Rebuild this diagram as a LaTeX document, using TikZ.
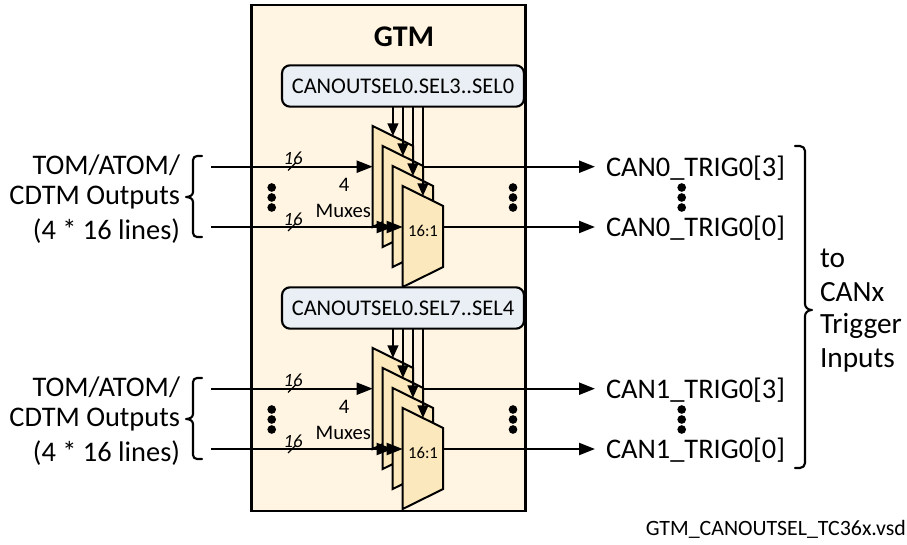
\documentclass[tikz,border=0pt]{standalone}
\usepackage{fontspec}
\setmainfont{Carlito}
\usetikzlibrary{arrows.meta}
\definecolor{gtmfill}{HTML}{FFF5E2}
\definecolor{muxfill}{HTML}{FBE8BC}
\definecolor{selfill}{HTML}{E9EFF4}
\tikzset{
  every node/.style={inner sep=0pt,outer sep=0pt,text=black},
  gtmbox/.style={draw=black,line width=1.6pt,fill=gtmfill},
  muxbody/.style={draw=black,line width=1.5pt,fill=muxfill,line join=miter},
  selbox/.style={draw=black,line width=1.6pt,fill=selfill,rounded corners=6pt,minimum width=181.5pt,minimum height=31pt,font=\fontsize{16.8}{18}\selectfont},
  sigline/.style={line width=1.6pt,-{Triangle[length=12pt,width=9pt]}},
  selline/.style={line width=1.6pt,-{Triangle[length=9.5pt,width=8pt]}},
  plainline/.style={line width=1.6pt},
  brace/.style={line width=1.6pt,line cap=round,line join=round},
  lbl/.style={font=\fontsize{21.3}{23}\selectfont},
  small/.style={font=\fontsize{15.5}{17}\selectfont},
  buslbl/.style={font=\fontsize{14}{16}\selectfont\itshape},
  dotmark/.style={circle,fill=black,minimum size=6.5pt},
}
\newcommand{\muxshape}[3]{% name, left x, top y
  \draw[muxbody] (#2,#3) coordinate (#1tl) -- ++(40.5,20) coordinate (#1tr)
     -- ++(0,61) coordinate (#1br) -- ++(-40.5,20) coordinate (#1bl) -- cycle;
  \coordinate (#1l) at (#2,#3+40.5);
  \coordinate (#1t) at (#2+20.25,#3+10);
}
\newcommand{\muxgroup}[4]{% y offset, name prefix, selector text, trig prefix
\begin{scope}[shift={(0,#1)}]
  \node[selbox] (#2sel) at (403,86) {#3};
  \foreach \i/\xx/\yy in {1/372.7/126,2/382.7/146,3/392.7/166,4/402.7/186}{
    \muxshape{#2m\i}{\xx}{\yy}
    \draw[selline] (#2sel.south -| #2m\i t) -- (#2m\i t);
  }
  \coordinate (#2in3) at (211,166.7);
  \coordinate (#2in0) at (211,227);
  \coordinate (#2o3) at (595,166.7);
  \coordinate (#2o0) at (595,227);
  \draw[sigline] (#2in3) -- (#2m1l |- #2in3);
  \draw[sigline,shorten >=7.5pt] (#2in0) -- (#2m4l |- #2in0);
  \draw[sigline] (#2in0) -- (#2m4l |- #2in0);
  \draw[sigline] (#2m2tr |- #2o3) -- (#2o3);
  \draw[sigline] (#2m4tr |- #2o0) -- (#2o0);
  \node[font=\fontsize{12.5}{14}\selectfont] (#2ratio) at (423,231) {16:1};
  \node[small] (#2four) at (344,185) {4};
  \node[small,anchor=east] (#2muxes) at (371,211) {Muxes};
  \node[buslbl] (#2n3) at (293,158) {16};
  \node[buslbl] (#2n0) at (293,219) {16};
  \coordinate (#2s3a) at (288,170.5); \coordinate (#2s3b) at (295.5,163);
  \coordinate (#2s0a) at (288,231); \coordinate (#2s0b) at (295.5,223.5);
  \draw[plainline,line width=1pt] (#2s3a) -- (#2s3b);
  \draw[plainline,line width=1pt] (#2s0a) -- (#2s0b);
  \foreach \k/\yy in {a/187.5,b/197.5,c/207.5}{
    \node[dotmark] (#2dl\k) at (271.7,\yy) {};
    \node[dotmark] (#2dm\k) at (513,\yy) {};
    \node[dotmark] (#2dr\k) at (681.7,\yy) {};
  }
  \node[lbl,anchor=west] (#2t3) at (606,168) {#4[3]};
  \node[lbl,anchor=west] (#2t0) at (606,228) {#4[0]};
  \node[lbl,anchor=east] (#2a) at (180,165) {TOM/ATOM/};
  \node[lbl,anchor=east] (#2b) at (180,198) {CDTM Outputs};
  \node[lbl,anchor=east] (#2c) at (180,231) {(4 * 16 lines)};
  \draw[brace] (202,156) -- (197,156) to[out=180,in=90] (193,160) -- (193,192)
     to[out=-90,in=0] (186,197) to[out=0,in=90] (193,202) -- (193,233)
     to[out=-90,in=180] (197,237) -- (202,237);
\end{scope}
}
\begin{document}
\begin{tikzpicture}[x=.75pt,y=-.75pt]
\useasboundingbox (0,0) rectangle (907,545);
\node[gtmbox,minimum width=205.5pt,minimum height=379pt] (gtm) at (388.5,258) {};
\node[font=\fontsize{22.5}{24}\selectfont\bfseries] (gtmt) at (404,37) {GTM};
\muxgroup{0}{A}{CANOUTSEL0.SEL3..SEL0}{CAN0\_TRIG0}
\muxgroup{222}{B}{CANOUTSEL0.SEL7..SEL4}{CAN1\_TRIG0}
\draw[brace] (795,146) -- (800,146) to[out=0,in=90] (805,151) -- (805,304)
   to[out=-90,in=180] (812,310) to[out=180,in=90] (805,316) -- (805,463)
   to[out=-90,in=0] (800,468) -- (795,468);
\node[lbl,anchor=west,font=\fontsize{22}{24}\selectfont] (r1) at (820,258) {to};
\node[lbl,anchor=west,font=\fontsize{22}{24}\selectfont] (r2) at (820,292) {CANx};
\node[lbl,anchor=west,font=\fontsize{22}{24}\selectfont] (r3) at (820,326) {Trigger};
\node[lbl,anchor=west,font=\fontsize{22}{24}\selectfont] (r4) at (820,360) {Inputs};
\node[anchor=east,font=\fontsize{16.4}{18}\selectfont] (file) at (906,529) {GTM\_CANOUTSEL\_TC36x.vsd};
\end{tikzpicture}
\end{document}
